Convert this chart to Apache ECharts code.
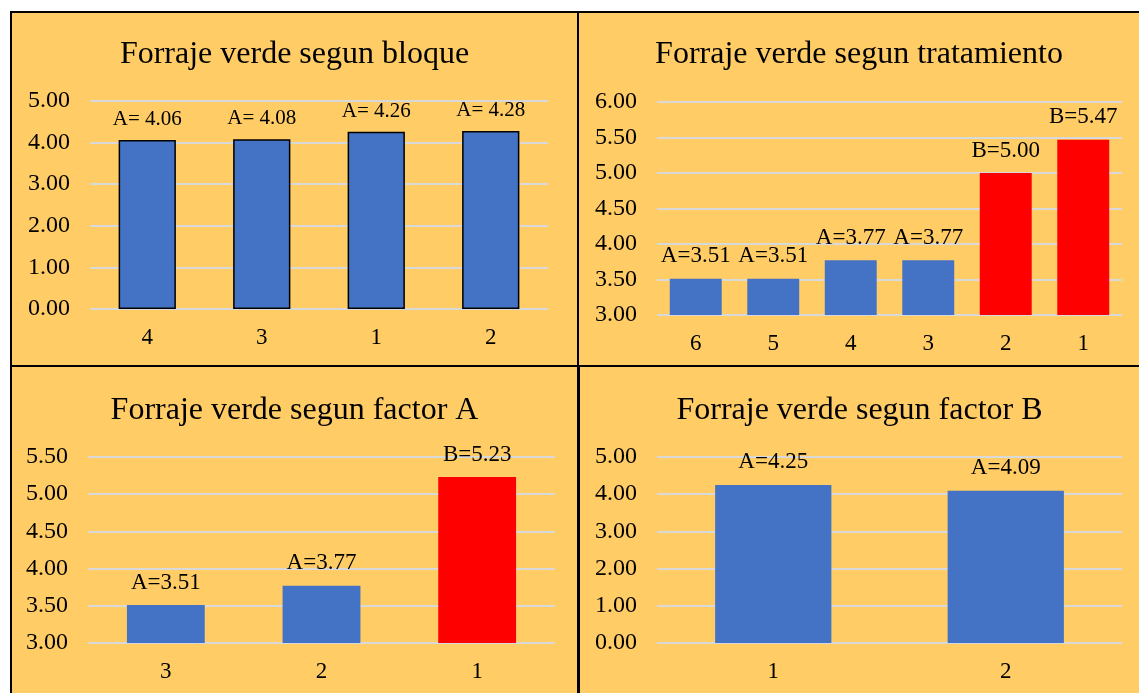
<!DOCTYPE html>
<html>
<head>
<meta charset="utf-8">
<script src="https://cdn.jsdelivr.net/npm/echarts@6/dist/echarts.min.js"></script>
<style>
  html, body { margin: 0; padding: 0; background: #ffffff; overflow: hidden; }
  body { width: 1139px; height: 693px; position: relative; }
  .panel { position: absolute; box-sizing: border-box; border: 2px solid #000; background: #FFCC66; }
</style>
</head>
<body>
<div id="p1" class="panel" style="left:10px;top:11px;width:569px;height:356px;"></div>
<div id="p2" class="panel" style="left:577px;top:11px;width:564px;height:356px;"></div>
<div id="p3" class="panel" style="left:10px;top:365px;width:569px;height:330px;"></div>
<div id="p4" class="panel" style="left:578px;top:365px;width:563px;height:330px;"></div>
<script>
// datos
const bloqueCats = ['4', '3', '1', '2'];
const bloqueVals = [4.06, 4.08, 4.26, 4.28];
const bloqueLetras = ['A', 'A', 'A', 'A'];

const tratCats = ['6', '5', '4', '3', '2', '1'];
const tratVals = [3.51, 3.51, 3.77, 3.77, 5.00, 5.47];
const tratLetras = ['A', 'A', 'A', 'A', 'B', 'B'];

const factorACats = ['3', '2', '1'];
const factorAVals = [3.51, 3.77, 5.23];
const factorALetras = ['A', 'A', 'B'];

const factorBCats = ['1', '2'];
const factorBVals = [4.25, 4.09];
const factorBLetras = ['A', 'A'];

const FONT = "'Liberation Serif', 'Times New Roman', serif";
const AZUL = '#4472C4';
const ROJO = '#FF0000';

/**
 * dibuja un panel de barras
 */
function drawPanel(el, cfg) {
  const chart = echarts.init(el, null, { renderer: 'canvas' });
  const option = {
    animation: false,
    title: {
      text: cfg.title,
      left: 'center',
      top: cfg.titleTop,
      textStyle: { fontFamily: FONT, fontSize: 32, fontWeight: 'normal', color: '#000' }
    },
    grid: cfg.grid,
    xAxis: {
      type: 'category',
      data: cfg.cats,
      axisLine: { show: false },
      axisTick: { show: false },
      axisLabel: { fontFamily: FONT, fontSize: 23, color: '#000', margin: 17 }
    },
    yAxis: {
      type: 'value',
      min: cfg.min,
      max: cfg.max,
      interval: cfg.interval,
      axisLine: { show: false },
      axisTick: { show: false },
      axisLabel: {
        fontFamily: FONT, fontSize: 24, color: '#000', margin: 20,
        formatter: v => v.toFixed(2)
      },
      splitLine: { lineStyle: { color: '#D9D9D9', width: 2 } }
    },
    series: [{
      type: 'bar',
      barWidth: cfg.barWidth,
      data: cfg.vals.map((v, i) => ({
        value: v,
        itemStyle: { color: cfg.letras[i] === 'B' ? ROJO : AZUL }
      })),
      itemStyle: cfg.borde ? { borderColor: '#000', borderWidth: 1.5 } : {},
      label: {
        show: true,
        position: 'top',
        distance: cfg.labelDist,
        fontFamily: FONT,
        fontSize: cfg.labelSize,
        color: '#000',
        formatter: p => cfg.letras[p.dataIndex] + cfg.sep + p.value.toFixed(2)
      }
    }]
  };
  chart.setOption(option);
}

drawPanel(document.getElementById('p1'), {
  title: 'Forraje verde segun bloque', titleTop: 21,
  cats: bloqueCats, vals: bloqueVals, letras: bloqueLetras, sep: '= ',
  min: 0, max: 5, interval: 1, barWidth: '50%', borde: true,
  labelSize: 21, labelDist: 10,
  grid: { left: 78, right: 29, top: 88, bottom: 56 }
});

drawPanel(document.getElementById('p2'), {
  title: 'Forraje verde segun tratamiento', titleTop: 21,
  cats: tratCats, vals: tratVals, letras: tratLetras, sep: '=',
  min: 3, max: 6, interval: 0.5, barWidth: '67%',
  labelSize: 23, labelDist: 11,
  grid: { left: 78, right: 17, top: 89, bottom: 50 }
});

drawPanel(document.getElementById('p3'), {
  title: 'Forraje verde segun factor A', titleTop: 23,
  cats: factorACats, vals: factorAVals, letras: factorALetras, sep: '=',
  min: 3, max: 5.5, interval: 0.5, barWidth: '50%',
  labelSize: 23, labelDist: 11,
  grid: { left: 76, right: 22, top: 90, bottom: 50 }
});

drawPanel(document.getElementById('p4'), {
  title: 'Forraje verde segun factor B', titleTop: 23,
  cats: factorBCats, vals: factorBVals, letras: factorBLetras, sep: '=',
  min: 0, max: 5, interval: 1, barWidth: '50%',
  labelSize: 23, labelDist: 11,
  grid: { left: 77, right: 17, top: 90, bottom: 50 }
});
</script>
</body>
</html>
